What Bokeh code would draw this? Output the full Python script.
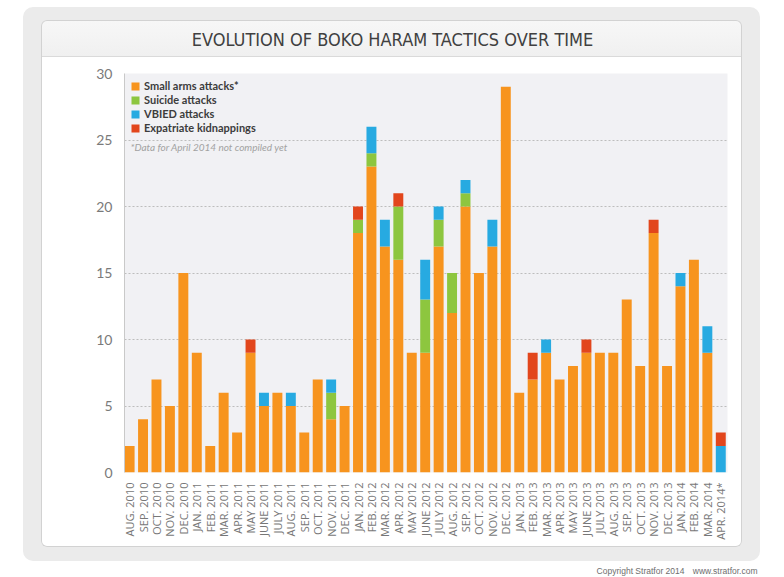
import math

from bokeh.embed import file_html
from bokeh.layouts import column
from bokeh.models import (ColumnDataSource, FixedTicker, Label, Legend,
                          LegendItem, Range1d)
from bokeh.plotting import figure
from bokeh.resources import INLINE

# Monthly counts of Boko Haram attacks by tactic, Aug 2010 - Apr 2014
months = [
    "AUG. 2010", "SEP. 2010", "OCT. 2010", "NOV. 2010", "DEC. 2010",
    "JAN. 2011", "FEB. 2011", "MAR. 2011", "APR. 2011", "MAY 2011",
    "JUNE 2011", "JULY 2011", "AUG. 2011", "SEP. 2011", "OCT. 2011",
    "NOV. 2011", "DEC. 2011", "JAN. 2012", "FEB. 2012", "MAR. 2012",
    "APR. 2012", "MAY 2012", "JUNE 2012", "JULY 2012", "AUG. 2012",
    "SEP. 2012", "OCT. 2012", "NOV. 2012", "DEC. 2012", "JAN. 2013",
    "FEB. 2013", "MAR. 2013", "APR. 2013", "MAY 2013", "JUNE 2013",
    "JULY 2013", "AUG. 2013", "SEP. 2013", "OCT. 2013", "NOV. 2013",
    "DEC. 2013", "JAN. 2014", "FEB. 2014", "MAR. 2014", "APR. 2014*",
]
small_arms = [2, 4, 7, 5, 15, 9, 2, 6, 3, 9,
              5, 6, 5, 3, 7, 4, 5, 18, 23, 17,
              16, 9, 9, 17, 12, 20, 15, 17, 29, 6,
              7, 9, 7, 8, 9, 9, 9, 13, 8, 18,
              8, 14, 16, 9, 0]
suicide = [0, 0, 0, 0, 0, 0, 0, 0, 0, 0,
           0, 0, 0, 0, 0, 2, 0, 1, 1, 0,
           4, 0, 4, 2, 3, 1, 0, 0, 0, 0,
           0, 0, 0, 0, 0, 0, 0, 0, 0, 0,
           0, 0, 0, 0, 0]
vbied = [0, 0, 0, 0, 0, 0, 0, 0, 0, 0,
         1, 0, 1, 0, 0, 1, 0, 0, 2, 2,
         0, 0, 3, 1, 0, 1, 0, 2, 0, 0,
         0, 1, 0, 0, 0, 0, 0, 0, 0, 0,
         0, 1, 0, 2, 2]
kidnappings = [0, 0, 0, 0, 0, 0, 0, 0, 0, 1,
               0, 0, 0, 0, 0, 0, 0, 1, 0, 0,
               1, 0, 0, 0, 0, 0, 0, 0, 0, 0,
               2, 0, 0, 0, 1, 0, 0, 0, 0, 1,
               0, 0, 0, 0, 1]

series_keys = ["small_arms", "suicide", "vbied", "kidnappings"]
series_names = ["Small arms attacks*", "Suicide attacks", "VBIED attacks",
                "Expatriate kidnappings"]
series_colors = ["#F7941E", "#8DC63F", "#27AAE1", "#E2461C"]
y_ticks = [0, 5, 10, 15, 20, 25, 30]
grid_ticks = [5, 10, 15, 20, 25]

title_text = "EVOLUTION OF BOKO HARAM TACTICS OVER TIME"
note_text = "*Data for April 2014 not compiled yet"
credit_text = "Copyright Stratfor 2014"
site_text = "www.stratfor.com"

# Card geometry (pixels)
CARD_W, CARD_H = 701, 527
HEAD_H = 37
CHART_H = CARD_H - HEAD_H
FRAME_L, FRAME_R, FRAME_T, FRAME_B = 83, 15, 16, 75
FRAME_W = CARD_W - FRAME_L - FRAME_R
FRAME_H = CHART_H - FRAME_T - FRAME_B

TITLE_FONT = "DejaVu Sans Condensed, Roboto Condensed, Roboto, sans-serif"


def blank(width, height):
    """Axis-less figure used only to carry text."""
    f = figure(width=width, height=height, output_backend="svg",
               toolbar_location=None, title=None,
               x_axis_type=None, y_axis_type=None,
               x_range=Range1d(0, 1), y_range=Range1d(0, 1),
               min_border=0, outline_line_color=None,
               border_fill_color=None, background_fill_color=None)
    return f


# header with the title; its frame lines up with the chart frame below,
# so the label is placed relative to that frame
head = blank(CARD_W, HEAD_H)
head.add_layout(Label(x=351 - FRAME_L, y=HEAD_H - 19,
                      x_units="screen", y_units="screen",
                      text=title_text, text_align="center",
                      text_baseline="middle", text_font_size="18px",
                      text_font=TITLE_FONT, text_color="#404040"))

# main chart
p = figure(width=CARD_W, height=CHART_H, output_backend="svg",
           toolbar_location=None, title=None,
           x_range=Range1d(-0.38, len(months) - 0.5), y_range=Range1d(0, 30),
           min_border_left=FRAME_L, min_border_right=FRAME_R,
           min_border_top=FRAME_T, min_border_bottom=FRAME_B,
           border_fill_color=None, background_fill_color="#f1f1f4",
           outline_line_color=None)

source = ColumnDataSource(dict(
    x=list(range(len(months))),
    small_arms=small_arms, suicide=suicide, vbied=vbied,
    kidnappings=kidnappings,
))

bars = p.vbar_stack(series_keys, x="x", width=0.74, source=source,
                    fill_color=series_colors, line_color=None)

legend = Legend(items=[LegendItem(label=n, renderers=[r])
                       for n, r in zip(series_names, bars)],
                location="top_left", margin=6, padding=0, spacing=1,
                glyph_width=10, glyph_height=10, label_height=10,
                label_standoff=4, background_fill_alpha=0,
                border_line_color=None,
                label_text_font="Lato", label_text_font_style="bold",
                label_text_font_size="11px", label_text_color="#3c3c3c")
p.add_layout(legend)

p.add_layout(Label(x=6, y=FRAME_H - 73, x_units="screen", y_units="screen",
                   text=note_text, text_align="left", text_baseline="middle",
                   text_font_size="10px", text_font="Lato",
                   text_font_style="italic", text_color="#a2a2a2"))

# axes
p.yaxis.ticker = FixedTicker(ticks=y_ticks)
p.yaxis.axis_line_color = "#c9c9c9"
p.yaxis.major_tick_line_color = None
p.yaxis.minor_tick_line_color = None
p.yaxis.major_label_standoff = 6
p.yaxis.major_label_text_font = "Lato"
p.yaxis.major_label_text_font_size = "14px"
p.yaxis.major_label_text_color = "#7a7a7a"

p.xaxis.ticker = FixedTicker(ticks=list(range(len(months))))
p.xaxis.major_label_overrides = {i: m for i, m in enumerate(months)}
p.xaxis.major_label_orientation = math.pi / 2
p.xaxis.axis_line_color = None
p.xaxis.major_tick_line_color = None
p.xaxis.minor_tick_line_color = None
p.xaxis.major_label_standoff = 4
p.xaxis.major_label_text_font = "Open Sans"
p.xaxis.major_label_text_font_size = "11px"
p.xaxis.major_label_text_color = "#777777"

p.xgrid.grid_line_color = None
p.ygrid.ticker = FixedTicker(ticks=grid_ticks)
p.ygrid.grid_line_color = "#bdbdbd"
p.ygrid.grid_line_dash = "2 2"
p.ygrid.grid_line_width = 1

# white card with a light header strip, sitting on a grey rounded panel
card = column(head, p, spacing=0, margin=(13, 18, 14, 18), styles={
    "background": ("linear-gradient(to bottom, #f7f7f7 0px, #f0f0f0 36px, "
                   "#dadada 36px, #dadada 37px, #ffffff 37px)"),
    "border-radius": "6px",
    "box-shadow": "inset 0 0 0 1px #d2d2d2",
    "overflow": "hidden",
})
panel = column(card, spacing=0, margin=(7, 0, 0, 23), styles={
    "background": "#ebebeb",
    "border-radius": "10px",
})

# credit line under the panel
foot = blank(784, 16)
foot.add_layout(Label(x=684, y=7, x_units="screen", y_units="screen",
                      text=credit_text, text_align="right",
                      text_baseline="middle", text_font_size="8.5px",
                      text_font="Liberation Sans", text_color="#6e6e6e"))
foot.add_layout(Label(x=757, y=7, x_units="screen", y_units="screen",
                      text=site_text, text_align="right",
                      text_baseline="middle", text_font_size="8.5px",
                      text_font="Liberation Sans", text_color="#6e6e6e"))

page = column(panel, foot, spacing=0, margin=0)

with open("out.html", "w") as f:
    f.write(file_html(page, INLINE))
